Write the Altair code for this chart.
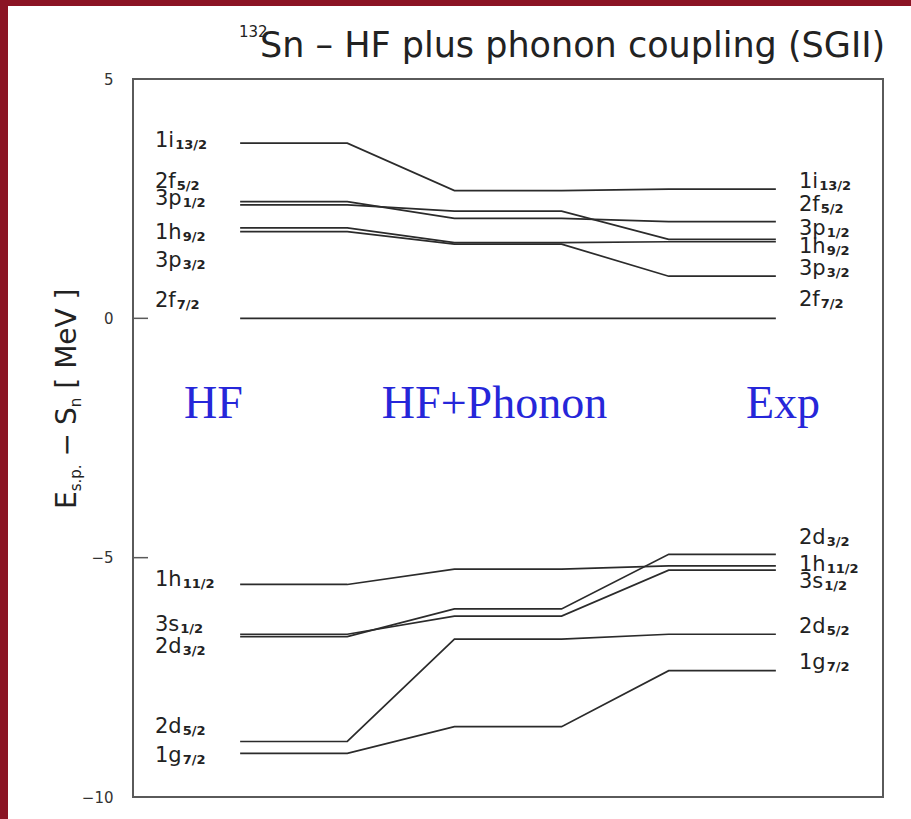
import altair as alt
import pandas as pd

# Single-particle neutron levels of 132Sn (E_s.p. - S_n, MeV)
orbit = ["1i", "2f", "3p", "1h", "3p", "2f", "1h", "3s", "2d", "2d", "1g"]
jlab = ["13/2", "5/2", "1/2", "9/2", "3/2", "7/2", "11/2", "1/2", "3/2", "5/2", "7/2"]
e_hf = [3.66, 2.44, 2.37, 1.89, 1.81, 0.00, -5.56, -6.60, -6.65, -8.84, -9.09]
e_phonon = [2.67, 2.09, 2.24, 1.58, 1.55, 0.00, -5.24, -6.22, -6.07, -6.70, -8.53]
e_exp = [2.70, 2.02, 1.65, 1.60, 0.88, 0.00, -5.17, -5.26, -4.93, -6.60, -7.36]
columns = ["HF", "HF+Phonon", "Exp"]
tick_values = [5, 0, -5, -10]

# ---- layout -------------------------------------------------------------
W_PLOT, H_PLOT = 750, 718
X_DOMAIN = [0, 7]
Y_DOMAIN = [-10, 5]
PX_PER_UNIT = W_PLOT / (X_DOMAIN[1] - X_DOMAIN[0])
PX_PER_MEV = H_PLOT / (Y_DOMAIN[1] - Y_DOMAIN[0])
col_span = [(1, 2), (3, 4), (5, 6)]          # horizontal extent of each level column
label_x = {"left": 22 / PX_PER_UNIT, "right": 666 / PX_PER_UNIT}
# vertical nudges of the level labels (pixels, + = down) so they do not collide
nudge = {
    "left": [-2, -20, -6, 5, 29, -17, -4, -9, 10, -14, 3],
    "right": [-7, -17, -10, 5, -7, -18, -1, 12, -16, -7, -8],
}
FONT = "DejaVu Sans"
INK = "#222222"
BLUE = "#2626d9"
LABEL_SIZE, SUB_SIZE = 21, 13

# approximate DejaVu Sans advance widths (em) for placing sub/superscripts
ADV = {"0": .636, "1": .636, "2": .636, "3": .636, "4": .636, "5": .636, "6": .636,
       "7": .636, "8": .636, "9": .636, " ": .318, ".": .318, "/": .337, "−": .838,
       "[": .39, "]": .39, "E": .632, "S": .635, "M": .863, "e": .615, "V": .684,
       "n": .634, "s": .521, "p": .635, "i": .278, "f": .352, "h": .634, "d": .635,
       "g": .635}


def text_width(s, size):
    return sum(ADV.get(c, 0.6) for c in s) * size


# ---- data tables ----------------------------------------------------------
line_rows = []
for i, (o, j) in enumerate(zip(orbit, jlab)):
    for (x0, x1), e in zip(col_span, (e_hf[i], e_phonon[i], e_exp[i])):
        line_rows.append({"level": o + j, "x": x0, "E": e})
        line_rows.append({"level": o + j, "x": x1, "E": e})
lines_df = pd.DataFrame(line_rows)

main_rows, sub_rows = [], []
for side, energies in (("left", e_hf), ("right", e_exp)):
    for i, (o, j) in enumerate(zip(orbit, jlab)):
        ey = energies[i] - nudge[side][i] / PX_PER_MEV
        x0 = label_x[side]
        main_rows.append({"x": x0, "E": ey, "t": o})
        sub_rows.append({"x": x0 + (text_width(o, LABEL_SIZE) + 1) / PX_PER_UNIT,
                         "E": ey, "t": j})
main_df = pd.DataFrame(main_rows)
sub_df = pd.DataFrame(sub_rows)
ticks_df = pd.DataFrame({"E": tick_values})
one = pd.DataFrame({"k": [0]})

# ---- encodings ------------------------------------------------------------
xenc = alt.X("x:Q", scale=alt.Scale(domain=X_DOMAIN, nice=False, zero=False), axis=None)
yenc = alt.Y("E:Q", scale=alt.Scale(domain=Y_DOMAIN, nice=False, zero=False),
             axis=alt.Axis(values=tick_values, ticks=False, tickSize=0, domain=False,
                           grid=False, labelPadding=20, labelFontSize=15,
                           labelFont=FONT, labelColor="#333333", title=None))

levels = alt.Chart(lines_df).mark_line(color="#2b2b2b", strokeWidth=1.7).encode(
    x=xenc, y=yenc, detail="level:N", order="x:Q")

inner_ticks = alt.Chart(ticks_df).mark_rule(color="#5a5a5a", strokeWidth=1.5).encode(
    y=yenc, x=alt.value(0), x2=alt.value(15))

main_labels = alt.Chart(main_df).mark_text(
    align="left", baseline="middle", font=FONT, fontSize=LABEL_SIZE, color=INK
).encode(x=xenc, y=yenc, text="t:N")

sub_labels = alt.Chart(sub_df).mark_text(
    align="left", baseline="middle", dy=4, font=FONT, fontSize=SUB_SIZE,
    fontWeight="bold", color=INK
).encode(x=xenc, y=yenc, text="t:N")

# column headings
header_px = [80.5, 361.5, 650]
headers = [
    alt.Chart(one).mark_text(text=name, align="center", baseline="alphabetic",
                             font="Liberation Serif", fontSize=46, color=BLUE)
    .encode(x=alt.value(px), y=alt.value(339))
    for name, px in zip(columns, header_px)
]

# title: superscript mass number + main text
title_parts = [
    alt.Chart(one).mark_text(text="132", align="left", baseline="alphabetic",
                             font=FONT, fontSize=15, color=INK)
    .encode(x=alt.value(106), y=alt.value(-42)),
    alt.Chart(one).mark_text(text="Sn – HF plus phonon coupling (SGII)", align="left",
                             baseline="alphabetic", font=FONT, fontSize=35, color=INK)
    .encode(x=alt.value(127), y=alt.value(-22)),
]

# rotated y-axis title built from pieces so the subscripts sit lower;
# each piece: (text, font size, shift towards the axis, gap after it in px)
ytitle_pieces = [("E", 28, 0, 0), ("s.p.", 15, 5, 8), ("−", 28, 0, 8),
                 ("S", 28, 0, 0), ("n", 15, 5, 9), ("[ MeV ]", 28, 0, 0)]
ytitle = []
ypos = 430
for txt, size, shift, gap in ytitle_pieces:
    ytitle.append(
        alt.Chart(one).mark_text(text=txt, angle=270, align="left", baseline="alphabetic",
                                 font=FONT, fontSize=size, color=INK)
        .encode(x=alt.value(-57 + shift), y=alt.value(ypos)))
    ypos -= text_width(txt, size) + gap

# dark red frame strips along the top and left edges of the page
edge = "#8b1424"
frame = [
    alt.Chart(one).mark_rect(color=edge).encode(
        x=alt.value(-133), x2=alt.value(-125), y=alt.value(-79), y2=alt.value(740)),
    alt.Chart(one).mark_rect(color=edge).encode(
        x=alt.value(-133), x2=alt.value(778), y=alt.value(-79), y2=alt.value(-73)),
]

chart = alt.layer(
    *frame, levels, inner_ticks, main_labels, sub_labels, *headers, *title_parts, *ytitle
).properties(
    width=W_PLOT, height=H_PLOT,
    padding={"left": 133, "top": 79, "right": 28, "bottom": 22},
    autosize="none",
    background="white",
).configure_view(stroke="#5a5a5a", strokeWidth=2)

chart.save("out.html", embed_options={"renderer": "svg", "actions": False})
